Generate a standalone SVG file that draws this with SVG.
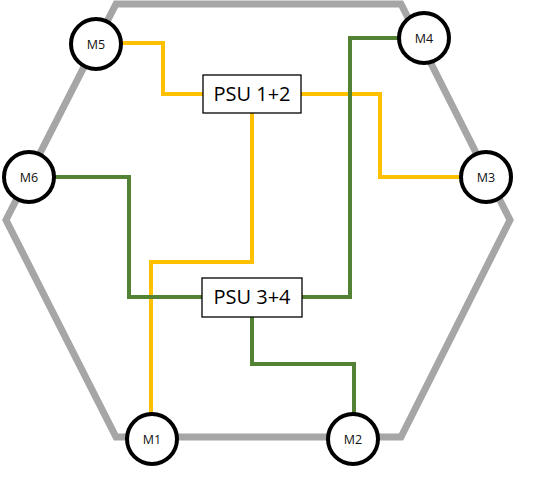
<svg xmlns="http://www.w3.org/2000/svg" width="544" height="481" viewBox="0 0 544 481">
<style>
.hex{fill:none;stroke:#A6A6A6;stroke-width:7;stroke-linejoin:miter}
.y{fill:none;stroke:#FFC000;stroke-width:4}
.g{fill:none;stroke:#548235;stroke-width:4}
.box{fill:#fff;stroke:#000;stroke-width:1.3}
.m{fill:#fff;stroke:#000;stroke-width:4}
.bt{font-family:"Open Sans","Liberation Sans",sans-serif;font-size:20px;fill:#000;text-anchor:middle}
.mt{font-family:"Open Sans","Liberation Sans",sans-serif;font-size:12.5px;fill:#111;text-anchor:middle}
</style>
<rect width="544" height="481" fill="#fff"/>
<polygon class="hex" points="116,4 401,4 510,220 401,437 116,437 6,220"/>
<g id="connectors">
<polyline class="y" points="121,43 163,43 163,94 203,94"/>
<polyline class="y" points="301,94 380,94 380,177 461,177"/>
<polyline class="y" points="252,113 252,262 151,262 151,414"/>
<polyline class="g" points="399,38 350,38 350,297 302,297"/>
<polyline class="g" points="54,177 129,177 129,297 202,297"/>
<polyline class="g" points="252,317 252,364 354,364 354,414"/>
</g>
<g id="psu12"><rect class="box" x="203" y="75" width="98" height="38"/><text class="bt" x="252" y="101">PSU 1+2</text></g>
<g id="psu34"><rect class="box" x="202" y="278" width="100" height="39"/><text class="bt" x="252" y="304">PSU 3+4</text></g>
<g id="m5"><circle class="m" cx="96" cy="44" r="25"/><text class="mt" x="96" y="48.5">M5</text></g>
<g id="m4"><circle class="m" cx="424" cy="38" r="25"/><text class="mt" x="424" y="42.5">M4</text></g>
<g id="m6"><circle class="m" cx="29" cy="177" r="25"/><text class="mt" x="29" y="181.5">M6</text></g>
<g id="m3"><circle class="m" cx="486" cy="177" r="25"/><text class="mt" x="486" y="181.5">M3</text></g>
<g id="m1"><circle class="m" cx="152" cy="439" r="25"/><text class="mt" x="152" y="443.5">M1</text></g>
<g id="m2"><circle class="m" cx="353" cy="439" r="25"/><text class="mt" x="353" y="443.5">M2</text></g>
</svg>
